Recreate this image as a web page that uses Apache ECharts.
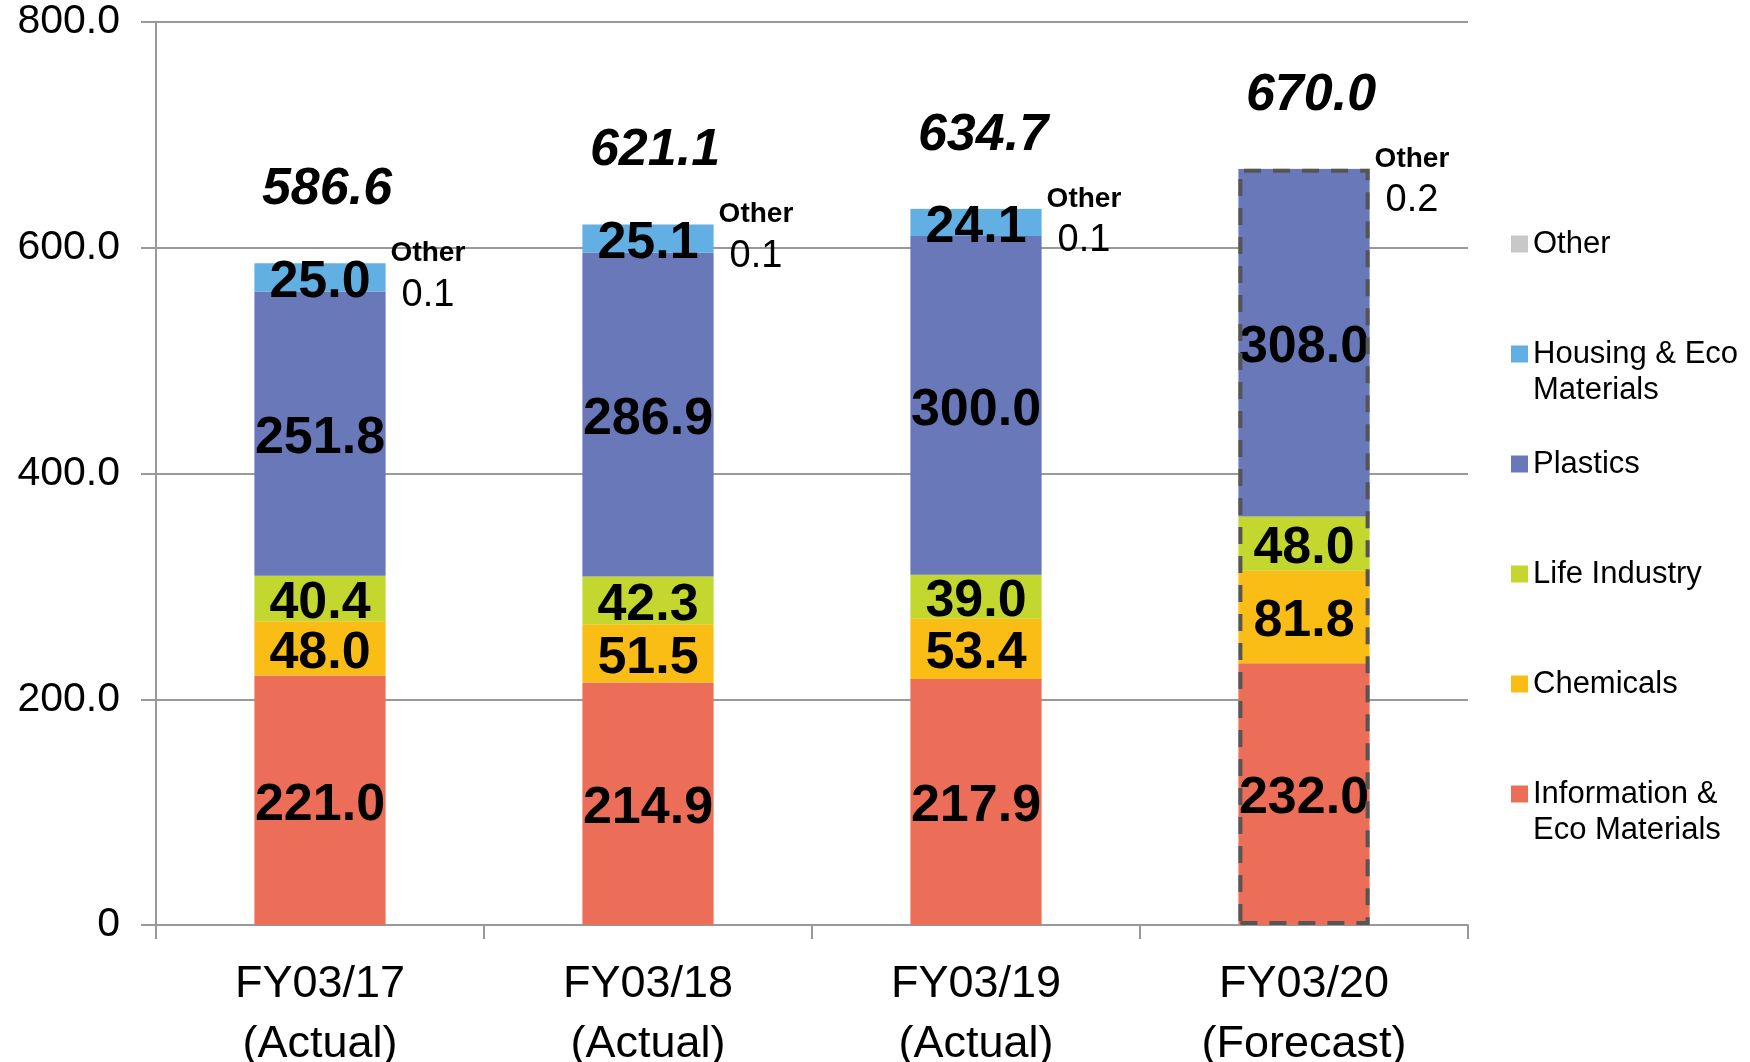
<!DOCTYPE html>
<html lang="en">

<head>
    <meta charset="UTF-8">
    <title>Net Sales by Segment</title>
    <style>
        html,
        body {
            margin: 0;
            padding: 0;
            background: #fff;
            overflow: hidden;
        }

        #chart {
            width: 1750px;
            height: 1062px;
        }
    </style>
    <script src="https://cdn.jsdelivr.net/npm/echarts@6/dist/echarts.min.js"></script>
</head>

<body>
    <div id="chart"></div>
    <script>
        var categories = ['FY03/17\n(Actual)', 'FY03/18\n(Actual)', 'FY03/19\n(Actual)', 'FY03/20\n(Forecast)'];
        var forecast = [false, false, false, true];

        var info = [221.0, 214.9, 217.9, 232.0];
        var chemicals = [48.0, 51.5, 53.4, 81.8];
        var life = [40.4, 42.3, 39.0, 48.0];
        var plastics = [251.8, 286.9, 300.0, 308.0];
        var housing = [25.0, 25.1, 24.1, null];
        var other = [0.1, 0.1, 0.1, 0.2];
        var totals = [586.6, 621.1, 634.7, 670.0];

        var yTicks = { min: 0, max: 800, interval: 200 };

        // legend from top to bottom, with the line breaks of the original
        var legendOrder = ['Other', 'Housing & Eco Materials', 'Plastics', 'Life Industry', 'Chemicals', 'Information & Eco Materials'];
        var legendLabels = {
            'Housing & Eco Materials': 'Housing & Eco\nMaterials',
            'Information & Eco Materials': 'Information &\nEco Materials'
        };

        var FONT = "'Liberation Sans', Arial, sans-serif";
        var LH = 36;

        var segments = [
            { name: 'Information & Eco Materials', data: info, color: '#EC6E58' },
            { name: 'Chemicals', data: chemicals, color: '#F9BD16' },
            { name: 'Life Industry', data: life, color: '#C3D72E' },
            { name: 'Plastics', data: plastics, color: '#6878B8' },
            { name: 'Housing & Eco Materials', data: housing, color: '#62B0E3' }
        ];

        var series = segments.map(function (s) {
            return {
                name: s.name,
                type: 'bar',
                stack: 'sales',
                barWidth: '40%',
                barGap: '-100%',
                data: s.data,
                itemStyle: { color: s.color },
                label: {
                    show: true,
                    position: 'inside',
                    offset: [0, 5],
                    color: '#000',
                    fontFamily: FONT,
                    fontWeight: 'bold',
                    fontSize: 52,
                    formatter: function (p) {
                        return p.value == null ? '' : p.value.toFixed(1);
                    }
                }
            };
        });

        series.push({
            name: 'Other',
            type: 'bar',
            stack: 'sales',
            barWidth: '40%',
            barGap: '-100%',
            data: other,
            itemStyle: { color: '#C8C8C8' },
            label: {
                show: true,
                position: 'right',
                distance: 5,
                offset: [0, 15],
                fontFamily: FONT,
                color: '#000',
                formatter: function (p) {
                    return '{a|Other}\n{b|' + p.value.toFixed(1) + '}';
                },
                rich: {
                    a: { fontFamily: FONT, fontWeight: 'bold', fontSize: 28, lineHeight: 34, color: '#000', align: 'center' },
                    b: { fontFamily: FONT, fontSize: 38, lineHeight: 50, color: '#000', align: 'center' }
                }
            }
        });

        // totals on top, and the dashed outline of the forecast bar
        series.push({
            name: 'Total',
            type: 'bar',
            barWidth: '40%',
            barGap: '-100%',
            z: 5,
            silent: true,
            data: totals.map(function (v, i) {
                return {
                    value: v,
                    itemStyle: forecast[i] ? {
                        color: 'rgba(0,0,0,0)',
                        borderColor: '#555',
                        borderWidth: 4,
                        borderType: [17, 12]
                    } : { color: 'rgba(0,0,0,0)' }
                };
            }),
            label: {
                show: true,
                position: 'top',
                distance: 43,
                offset: [7, 0],
                color: '#000',
                fontFamily: FONT,
                fontWeight: 'bold',
                fontStyle: 'italic',
                fontSize: 52,
                lineHeight: 60,
                formatter: function (p) {
                    return p.value.toFixed(1);
                }
            }
        });

        var chart = echarts.init(document.getElementById('chart'));
        chart.setOption({
            animation: false,
            grid: { left: 156, right: 282, top: 22, bottom: 137, outerBoundsMode: 'none' },
            legend: {
                orient: 'vertical',
                left: 1511,
                top: 190,
                padding: 0,
                itemGap: 2,
                itemWidth: 17,
                itemHeight: 17,
                icon: 'rect',
                selectedMode: false,
                textStyle: { fontFamily: FONT, fontSize: 31, lineHeight: LH, color: '#000' },
                // three lines per item: a blank one on top keeps the first
                // text line level with the colour square
                formatter: function (name) {
                    var text = legendLabels[name] || (name + '\n ');
                    return ' \n' + text;
                },
                data: legendOrder
            },
            xAxis: {
                type: 'category',
                data: categories,
                axisLine: { lineStyle: { color: '#999', width: 2 } },
                axisTick: { show: true, length: 14, lineStyle: { color: '#999', width: 2 } },
                axisLabel: {
                    color: '#000',
                    fontFamily: FONT,
                    fontSize: 45,
                    lineHeight: 60,
                    margin: 30
                }
            },
            yAxis: {
                type: 'value',
                min: yTicks.min,
                max: yTicks.max,
                interval: yTicks.interval,
                axisLine: { show: true, lineStyle: { color: '#999', width: 2 } },
                axisTick: { show: true, length: 15, lineStyle: { color: '#999', width: 2 } },
                splitLine: { lineStyle: { color: '#999', width: 2 } },
                axisLabel: {
                    color: '#000',
                    fontFamily: FONT,
                    fontSize: 41,
                    margin: 36,
                    formatter: function (v) {
                        return v === 0 ? '0' : v.toFixed(1);
                    }
                }
            },
            series: series
        });
    </script>
</body>

</html>
